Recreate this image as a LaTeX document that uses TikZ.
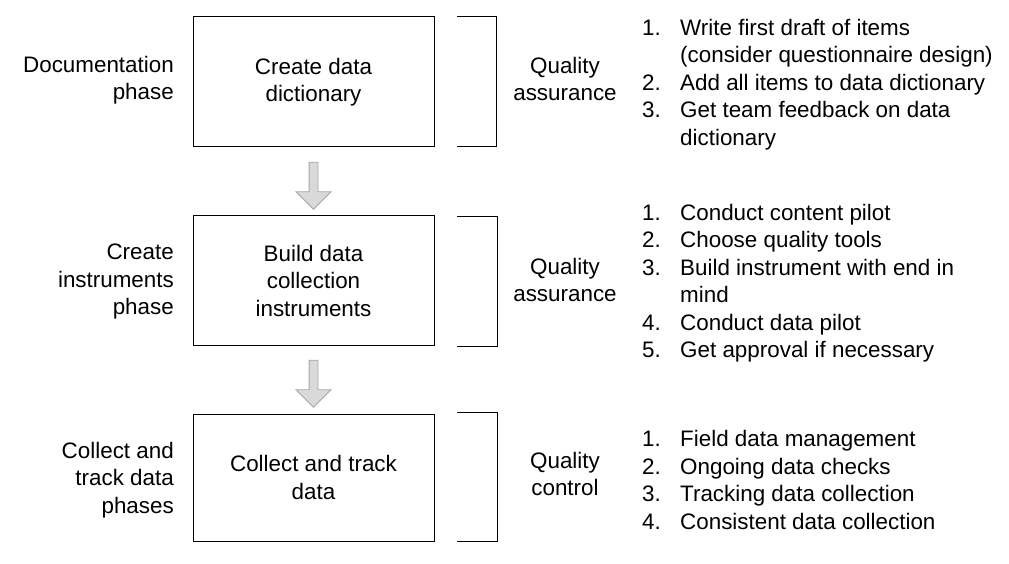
\documentclass[tikz,border=0pt]{standalone}
\usepackage{fontspec}
\setmainfont{Liberation Sans}
\usetikzlibrary{shapes.arrows}
\definecolor{arrowfill}{HTML}{D9D9D9}
\definecolor{arrowline}{HTML}{A6A6A6}
\newcommand{\num}[1]{\makebox[38pt][l]{#1}}
\newcommand{\ind}{\hspace*{38pt}}

\begin{document}
\begin{tikzpicture}[x=1pt, y=-1pt, font=\fontsize{22.4}{27.5}\selectfont]
        \tikzstyle{phase} = [draw=black, line width=1pt, minimum width=241pt, align=center, inner sep=0pt]
        \tikzstyle{label} = [align=right, anchor=east, inner sep=0pt]
        \tikzstyle{quality} = [align=center, inner sep=0pt]
        \tikzstyle{steps} = [align=left, anchor=west, inner sep=0pt]
        \tikzstyle{downarrow} = [single arrow, shape border rotate=270, draw=arrowline, fill=arrowfill, line width=0.8pt, minimum height=47pt, single arrow head extend=13pt, single arrow tip angle=90, inner sep=4pt]
        \tikzstyle{bracket} = [draw=black, line width=1pt]
        \useasboundingbox (0,0) rectangle (1009,564);
        % boxes
        \node[phase, minimum height=130pt] (dict) at (313.5,82) {Create data\\dictionary};
        \node[phase, minimum height=129pt] (build) at (313.5,280.5) {Build data\\collection\\instruments};
        \node[phase, minimum height=127pt] (collect) at (313.5,477.5) {Collect and track\\data};
        \node[downarrow] (arr1) at (313.5,183.5) {};
        \node[downarrow] (arr2) at (313.5,381.5) {};
        % phase names
        \node[label] (docphase) at (174,80) {Documentation\\phase};
        \node[label] (instphase) at (174,282) {Create\\instruments\\phase};
        \node[label] (trackphase) at (174,480) {Collect and\\track data\\phases};
        % brackets
        \draw[bracket] (457,17) -- (496,17) -- (496,147) -- (457,147);
        \draw[bracket] (457,217) -- (497,217) -- (497,346) -- (457,346);
        \draw[bracket] (457,412) -- (497,412) -- (497,541) -- (457,541);
        \node[quality] (qa1) at (565,79) {Quality\\assurance};
        \node[quality] (qa2) at (565,280) {Quality\\assurance};
        \node[quality] (qc) at (565,474) {Quality\\control};
        % step lists
        \node[steps] (steps1) at (642,84.5) {\num{1.}Write first draft of items\\\ind(consider questionnaire design)\\\num{2.}Add all items to data dictionary\\\num{3.}Get team feedback on data\\\ind dictionary};
        \node[steps] (steps2) at (642,283) {\num{1.}Conduct content pilot\\\num{2.}Choose quality tools\\\num{3.}Build instrument with end in\\\ind mind\\\num{4.}Conduct data pilot\\\num{5.}Get approval if necessary};
        \node[steps] (steps3) at (642,480) {\num{1.}Field data management\\\num{2.}Ongoing data checks\\\num{3.}Tracking data collection\\\num{4.}Consistent data collection};
\end{tikzpicture}
\end{document}
